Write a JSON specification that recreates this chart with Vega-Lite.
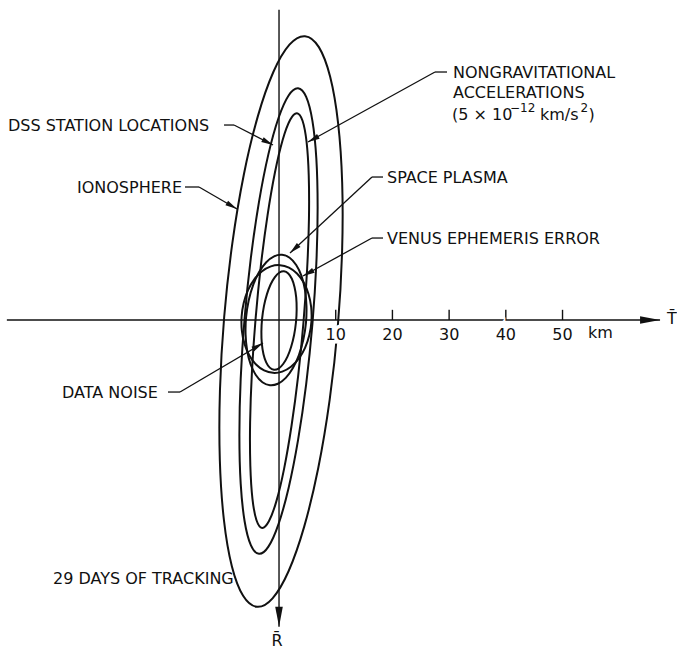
{
  "$schema": "https://vega.github.io/schema/vega-lite/v6.json",
  "width": 677,
  "height": 649,
  "padding": 0,
  "autosize": {"type": "fit", "contains": "padding"},
  "background": "white",
  "config": {"view": {"stroke": null}},
  "datasets": {
    "ellipses": [
      {"e": "Ionosphere", "i": 0, "x": 4.58, "r": -50.06},
      {"e": "Ionosphere", "i": 1, "x": 7.03, "r": -48.13},
      {"e": "Ionosphere", "i": 2, "x": 9.02, "r": -42.9},
      {"e": "Ionosphere", "i": 3, "x": 10.42, "r": -34.73},
      {"e": "Ionosphere", "i": 4, "x": 11.14, "r": -24.17},
      {"e": "Ionosphere", "i": 5, "x": 11.12, "r": -11.95},
      {"e": "Ionosphere", "i": 6, "x": 10.37, "r": 1.1},
      {"e": "Ionosphere", "i": 7, "x": 8.93, "r": 14.09},
      {"e": "Ionosphere", "i": 8, "x": 6.91, "r": 26.15},
      {"e": "Ionosphere", "i": 9, "x": 4.44, "r": 36.44},
      {"e": "Ionosphere", "i": 10, "x": 1.7, "r": 44.26},
      {"e": "Ionosphere", "i": 11, "x": -1.14, "r": 49.08},
      {"e": "Ionosphere", "i": 12, "x": -3.88, "r": 50.58},
      {"e": "Ionosphere", "i": 13, "x": -6.33, "r": 48.64},
      {"e": "Ionosphere", "i": 14, "x": -8.32, "r": 43.42},
      {"e": "Ionosphere", "i": 15, "x": -9.72, "r": 35.25},
      {"e": "Ionosphere", "i": 16, "x": -10.44, "r": 24.69},
      {"e": "Ionosphere", "i": 17, "x": -10.42, "r": 12.47},
      {"e": "Ionosphere", "i": 18, "x": -9.67, "r": -0.58},
      {"e": "Ionosphere", "i": 19, "x": -8.23, "r": -13.57},
      {"e": "Ionosphere", "i": 20, "x": -6.21, "r": -25.63},
      {"e": "Ionosphere", "i": 21, "x": -3.74, "r": -35.92},
      {"e": "Ionosphere", "i": 22, "x": -1.0, "r": -43.74},
      {"e": "Ionosphere", "i": 23, "x": 1.84, "r": -48.56},

      {"e": "DSS station locations", "i": 0, "x": 3.36, "r": -40.88},
      {"e": "DSS station locations", "i": 1, "x": 4.79, "r": -39.35},
      {"e": "DSS station locations", "i": 2, "x": 5.89, "r": -35.13},
      {"e": "DSS station locations", "i": 3, "x": 6.58, "r": -28.5},
      {"e": "DSS station locations", "i": 4, "x": 6.81, "r": -19.92},
      {"e": "DSS station locations", "i": 5, "x": 6.58, "r": -9.97},
      {"e": "DSS station locations", "i": 6, "x": 5.89, "r": 0.68},
      {"e": "DSS station locations", "i": 7, "x": 4.79, "r": 11.3},
      {"e": "DSS station locations", "i": 8, "x": 3.36, "r": 21.15},
      {"e": "DSS station locations", "i": 9, "x": 1.7, "r": 29.57},
      {"e": "DSS station locations", "i": 10, "x": -0.09, "r": 35.99},
      {"e": "DSS station locations", "i": 11, "x": -1.87, "r": 39.97},
      {"e": "DSS station locations", "i": 12, "x": -3.54, "r": 41.24},
      {"e": "DSS station locations", "i": 13, "x": -4.97, "r": 39.71},
      {"e": "DSS station locations", "i": 14, "x": -6.07, "r": 35.49},
      {"e": "DSS station locations", "i": 15, "x": -6.76, "r": 28.86},
      {"e": "DSS station locations", "i": 16, "x": -6.99, "r": 20.28},
      {"e": "DSS station locations", "i": 17, "x": -6.76, "r": 10.33},
      {"e": "DSS station locations", "i": 18, "x": -6.07, "r": -0.32},
      {"e": "DSS station locations", "i": 19, "x": -4.97, "r": -10.94},
      {"e": "DSS station locations", "i": 20, "x": -3.54, "r": -20.79},
      {"e": "DSS station locations", "i": 21, "x": -1.88, "r": -29.21},
      {"e": "DSS station locations", "i": 22, "x": -0.09, "r": -35.63},
      {"e": "DSS station locations", "i": 23, "x": 1.69, "r": -39.61},

      {"e": "Nongravitational accelerations", "i": 0, "x": 3.16, "r": -36.48},
      {"e": "Nongravitational accelerations", "i": 1, "x": 4.15, "r": -35.14},
      {"e": "Nongravitational accelerations", "i": 2, "x": 4.86, "r": -31.4},
      {"e": "Nongravitational accelerations", "i": 3, "x": 5.24, "r": -25.52},
      {"e": "Nongravitational accelerations", "i": 4, "x": 5.28, "r": -17.89},
      {"e": "Nongravitational accelerations", "i": 5, "x": 4.96, "r": -9.03},
      {"e": "Nongravitational accelerations", "i": 6, "x": 4.31, "r": 0.44},
      {"e": "Nongravitational accelerations", "i": 7, "x": 3.37, "r": 9.9},
      {"e": "Nongravitational accelerations", "i": 8, "x": 2.2, "r": 18.69},
      {"e": "Nongravitational accelerations", "i": 9, "x": 0.9, "r": 26.2},
      {"e": "Nongravitational accelerations", "i": 10, "x": -0.46, "r": 31.94},
      {"e": "Nongravitational accelerations", "i": 11, "x": -1.79, "r": 35.5},
      {"e": "Nongravitational accelerations", "i": 12, "x": -2.98, "r": 36.66},
      {"e": "Nongravitational accelerations", "i": 13, "x": -3.97, "r": 35.32},
      {"e": "Nongravitational accelerations", "i": 14, "x": -4.68, "r": 31.58},
      {"e": "Nongravitational accelerations", "i": 15, "x": -5.06, "r": 25.7},
      {"e": "Nongravitational accelerations", "i": 16, "x": -5.1, "r": 18.07},
      {"e": "Nongravitational accelerations", "i": 17, "x": -4.78, "r": 9.21},
      {"e": "Nongravitational accelerations", "i": 18, "x": -4.13, "r": -0.26},
      {"e": "Nongravitational accelerations", "i": 19, "x": -3.19, "r": -9.72},
      {"e": "Nongravitational accelerations", "i": 20, "x": -2.02, "r": -18.51},
      {"e": "Nongravitational accelerations", "i": 21, "x": -0.72, "r": -26.02},
      {"e": "Nongravitational accelerations", "i": 22, "x": 0.64, "r": -31.76},
      {"e": "Nongravitational accelerations", "i": 23, "x": 1.97, "r": -35.32},

      {"e": "Space plasma", "i": 0, "x": 0.54, "r": -11.5},
      {"e": "Space plasma", "i": 1, "x": 1.87, "r": -10.98},
      {"e": "Space plasma", "i": 2, "x": 3.03, "r": -9.71},
      {"e": "Space plasma", "i": 3, "x": 3.96, "r": -7.79},
      {"e": "Space plasma", "i": 4, "x": 4.57, "r": -5.33},
      {"e": "Space plasma", "i": 5, "x": 4.84, "r": -2.5},
      {"e": "Space plasma", "i": 6, "x": 4.75, "r": 0.49},
      {"e": "Space plasma", "i": 7, "x": 4.29, "r": 3.45},
      {"e": "Space plasma", "i": 8, "x": 3.51, "r": 6.17},
      {"e": "Space plasma", "i": 9, "x": 2.45, "r": 8.48},
      {"e": "Space plasma", "i": 10, "x": 1.19, "r": 10.2},
      {"e": "Space plasma", "i": 11, "x": -0.2, "r": 11.24},
      {"e": "Space plasma", "i": 12, "x": -1.6, "r": 11.5},
      {"e": "Space plasma", "i": 13, "x": -2.93, "r": 10.98},
      {"e": "Space plasma", "i": 14, "x": -4.09, "r": 9.71},
      {"e": "Space plasma", "i": 15, "x": -5.02, "r": 7.79},
      {"e": "Space plasma", "i": 16, "x": -5.63, "r": 5.33},
      {"e": "Space plasma", "i": 17, "x": -5.9, "r": 2.5},
      {"e": "Space plasma", "i": 18, "x": -5.81, "r": -0.49},
      {"e": "Space plasma", "i": 19, "x": -5.35, "r": -3.45},
      {"e": "Space plasma", "i": 20, "x": -4.57, "r": -6.17},
      {"e": "Space plasma", "i": 21, "x": -3.51, "r": -8.48},
      {"e": "Space plasma", "i": 22, "x": -2.25, "r": -10.2},
      {"e": "Space plasma", "i": 23, "x": -0.87, "r": -11.24},

      {"e": "Venus ephemeris error", "i": 0, "x": 0.17, "r": -9.68},
      {"e": "Venus ephemeris error", "i": 1, "x": 1.75, "r": -9.25},
      {"e": "Venus ephemeris error", "i": 2, "x": 3.17, "r": -8.21},
      {"e": "Venus ephemeris error", "i": 3, "x": 4.35, "r": -6.62},
      {"e": "Venus ephemeris error", "i": 4, "x": 5.2, "r": -4.59},
      {"e": "Venus ephemeris error", "i": 5, "x": 5.67, "r": -2.26},
      {"e": "Venus ephemeris error", "i": 6, "x": 5.72, "r": 0.22},
      {"e": "Venus ephemeris error", "i": 7, "x": 5.35, "r": 2.66},
      {"e": "Venus ephemeris error", "i": 8, "x": 4.59, "r": 4.92},
      {"e": "Venus ephemeris error", "i": 9, "x": 3.48, "r": 6.82},
      {"e": "Venus ephemeris error", "i": 10, "x": 2.11, "r": 8.25},
      {"e": "Venus ephemeris error", "i": 11, "x": 0.56, "r": 9.1},
      {"e": "Venus ephemeris error", "i": 12, "x": -1.05, "r": 9.32},
      {"e": "Venus ephemeris error", "i": 13, "x": -2.63, "r": 8.89},
      {"e": "Venus ephemeris error", "i": 14, "x": -4.05, "r": 7.85},
      {"e": "Venus ephemeris error", "i": 15, "x": -5.23, "r": 6.26},
      {"e": "Venus ephemeris error", "i": 16, "x": -6.08, "r": 4.23},
      {"e": "Venus ephemeris error", "i": 17, "x": -6.55, "r": 1.9},
      {"e": "Venus ephemeris error", "i": 18, "x": -6.6, "r": -0.58},
      {"e": "Venus ephemeris error", "i": 19, "x": -6.23, "r": -3.02},
      {"e": "Venus ephemeris error", "i": 20, "x": -5.47, "r": -5.28},
      {"e": "Venus ephemeris error", "i": 21, "x": -4.36, "r": -7.18},
      {"e": "Venus ephemeris error", "i": 22, "x": -2.99, "r": -8.61},
      {"e": "Venus ephemeris error", "i": 23, "x": -1.44, "r": -9.46},

      {"e": "Data noise", "i": 0, "x": 0.88, "r": -8.6},
      {"e": "Data noise", "i": 1, "x": 1.63, "r": -8.22},
      {"e": "Data noise", "i": 2, "x": 2.26, "r": -7.28},
      {"e": "Data noise", "i": 3, "x": 2.73, "r": -5.84},
      {"e": "Data noise", "i": 4, "x": 3.03, "r": -3.99},
      {"e": "Data noise", "i": 5, "x": 3.11, "r": -1.87},
      {"e": "Data noise", "i": 6, "x": 2.99, "r": 0.39},
      {"e": "Data noise", "i": 7, "x": 2.66, "r": 2.63},
      {"e": "Data noise", "i": 8, "x": 2.14, "r": 4.7},
      {"e": "Data noise", "i": 9, "x": 1.49, "r": 6.45},
      {"e": "Data noise", "i": 10, "x": 0.73, "r": 7.76},
      {"e": "Data noise", "i": 11, "x": -0.08, "r": 8.56},
      {"e": "Data noise", "i": 12, "x": -0.88, "r": 8.78},
      {"e": "Data noise", "i": 13, "x": -1.63, "r": 8.4},
      {"e": "Data noise", "i": 14, "x": -2.26, "r": 7.46},
      {"e": "Data noise", "i": 15, "x": -2.74, "r": 6.02},
      {"e": "Data noise", "i": 16, "x": -3.03, "r": 4.17},
      {"e": "Data noise", "i": 17, "x": -3.11, "r": 2.05},
      {"e": "Data noise", "i": 18, "x": -2.99, "r": -0.21},
      {"e": "Data noise", "i": 19, "x": -2.66, "r": -2.45},
      {"e": "Data noise", "i": 20, "x": -2.14, "r": -4.52},
      {"e": "Data noise", "i": 21, "x": -1.49, "r": -6.27},
      {"e": "Data noise", "i": 22, "x": -0.73, "r": -7.58},
      {"e": "Data noise", "i": 23, "x": 0.08, "r": -8.38}
    ],
    "axes": [
      {"name": "T", "x0": -48.0, "r0": 0, "x1": 67.2, "r1": 0},
      {"name": "R", "x0": 0, "r0": -54.7, "x1": 0, "r1": 54.1}
    ],
    "ticks": [{"km": 10}, {"km": 20}, {"km": 30}, {"km": 40}, {"km": 50}],
    "callouts": [
      {"label": "DSS STATION LOCATIONS", "xa": -9.7, "ra": -34.39, "xb": -7.94, "rb": -34.39, "xt": -1.06, "rt": -30.86},
      {"label": "IONOSPHERE", "xa": -16.58, "ra": -23.46, "xb": -14.11, "rb": -23.46, "xt": -7.41, "rt": -19.58},
      {"label": "NONGRAVITATIONAL", "xa": 29.63, "ra": -43.74, "xb": 27.51, "rb": -43.74, "xt": 5.11, "rt": -31.39},
      {"label": "SPACE PLASMA", "xa": 18.34, "ra": -25.22, "xb": 16.4, "rb": -25.22, "xt": 1.94, "rt": -11.82},
      {"label": "VENUS EPHEMERIS ERROR", "xa": 18.34, "ra": -14.46, "xb": 16.4, "rb": -14.46, "xt": 4.23, "rt": -7.76},
      {"label": "DATA NOISE", "xa": -19.58, "ra": 12.7, "xb": -17.46, "rb": 12.7, "xt": -2.82, "rt": 4.06}
    ],
    "labels": [
      {"text": "NONGRAVITATIONAL", "x": 30.69, "r": -43.56},
      {"text": "ACCELERATIONS", "x": 30.69, "r": -40.04},
      {"text": "(5 × 10", "x": 30.51, "r": -36.2},
      {"text": "km/s", "x": 46.03, "r": -36.2},
      {"text": ")", "x": 54.6, "r": -36.2},
      {"text": "SPACE PLASMA", "x": 19.05, "r": -25.04},
      {"text": "VENUS EPHEMERIS ERROR", "x": 19.05, "r": -14.29},
      {"text": "DSS STATION LOCATIONS", "x": -47.8, "r": -34.22},
      {"text": "IONOSPHERE", "x": -35.63, "r": -23.37},
      {"text": "DATA NOISE", "x": -38.27, "r": 12.79},
      {"text": "29 DAYS OF TRACKING", "x": -39.86, "r": 45.59},
      {"text": "km", "x": 54.5, "r": 2.29}
    ],
    "superscripts": [
      {"text": "−12", "x": 40.74, "r": -37.4},
      {"text": "2", "x": 53.15, "r": -37.4}
    ],
    "axisNames": [
      {"text": "T̄", "x": 69.31, "r": -0.2},
      {"text": "R̄", "x": -0.35, "r": 56.6}
    ]
  },
  "layer": [
    {
      "data": {"name": "ellipses"},
      "mark": {"type": "line", "interpolate": "cardinal-closed", "stroke": "#111", "strokeWidth": 2},
      "encoding": {
        "x": {"field": "x", "type": "quantitative", "axis": null, "scale": {"domain": [-49.21, 70.19], "nice": false, "zero": false}},
        "y": {"field": "r", "type": "quantitative", "axis": null, "scale": {"domain": [-56.44, 58.02], "nice": false, "zero": false, "reverse": true}},
        "detail": {"field": "e", "type": "nominal"},
        "order": {"field": "i", "type": "quantitative"}
      }
    },
    {
      "data": {"name": "axes"},
      "mark": {"type": "rule", "stroke": "#111", "strokeWidth": 1.4},
      "encoding": {
        "x": {"field": "x0", "type": "quantitative"},
        "y": {"field": "r0", "type": "quantitative"},
        "x2": {"field": "x1"},
        "y2": {"field": "r1"}
      }
    },
    {
      "data": {"name": "axes"},
      "transform": [{"calculate": "atan2(datum.x1 - datum.x0, datum.r0 - datum.r1) * 180 / PI", "as": "ang"}],
      "mark": {"type": "point", "shape": "M0,0L0.38,2L-0.38,2Z", "size": 400, "filled": true, "fill": "#111", "strokeWidth": 0, "opacity": 1},
      "encoding": {
        "x": {"field": "x1", "type": "quantitative"},
        "y": {"field": "r1", "type": "quantitative"},
        "angle": {"field": "ang", "type": "quantitative", "scale": null}
      }
    },
    {
      "data": {"name": "ticks"},
      "mark": {"type": "rule", "stroke": "#111", "strokeWidth": 1.4},
      "encoding": {
        "x": {"field": "km", "type": "quantitative"},
        "y": {"datum": 0},
        "y2": {"datum": -1.8}
      }
    },
    {
      "data": {"name": "ticks"},
      "mark": {"type": "text", "font": "DejaVu Sans", "fontSize": 16, "fill": "white", "stroke": "white", "strokeWidth": 7, "align": "center", "baseline": "middle"},
      "encoding": {
        "x": {"field": "km", "type": "quantitative"},
        "y": {"datum": 2.6},
        "text": {"field": "km", "type": "quantitative"}
      }
    },
    {
      "data": {"name": "ticks"},
      "mark": {"type": "text", "font": "DejaVu Sans", "fontSize": 16, "fill": "#111", "align": "center", "baseline": "middle"},
      "encoding": {
        "x": {"field": "km", "type": "quantitative"},
        "y": {"datum": 2.6},
        "text": {"field": "km", "type": "quantitative"}
      }
    },
    {
      "data": {"name": "callouts"},
      "mark": {"type": "rule", "stroke": "#111", "strokeWidth": 1.3},
      "encoding": {
        "x": {"field": "xa", "type": "quantitative"},
        "y": {"field": "ra", "type": "quantitative"},
        "x2": {"field": "xb"},
        "y2": {"field": "rb"}
      }
    },
    {
      "data": {"name": "callouts"},
      "mark": {"type": "rule", "stroke": "#111", "strokeWidth": 1.3},
      "encoding": {
        "x": {"field": "xb", "type": "quantitative"},
        "y": {"field": "rb", "type": "quantitative"},
        "x2": {"field": "xt"},
        "y2": {"field": "rt"}
      }
    },
    {
      "data": {"name": "callouts"},
      "transform": [{"calculate": "atan2(datum.xt - datum.xb, datum.rb - datum.rt) * 180 / PI", "as": "ang"}],
      "mark": {"type": "point", "shape": "M0,0L0.45,2L-0.45,2Z", "size": 140, "filled": true, "fill": "#111", "strokeWidth": 0, "opacity": 1},
      "encoding": {
        "x": {"field": "xt", "type": "quantitative"},
        "y": {"field": "rt", "type": "quantitative"},
        "angle": {"field": "ang", "type": "quantitative", "scale": null}
      }
    },
    {
      "data": {"name": "labels"},
      "mark": {"type": "text", "font": "DejaVu Sans", "fontSize": 16, "fill": "#111", "align": "left", "baseline": "middle"},
      "encoding": {
        "x": {"field": "x", "type": "quantitative"},
        "y": {"field": "r", "type": "quantitative"},
        "text": {"field": "text", "type": "nominal"}
      }
    },
    {
      "data": {"name": "superscripts"},
      "mark": {"type": "text", "font": "DejaVu Sans", "fontSize": 12, "fill": "#111", "align": "left", "baseline": "middle"},
      "encoding": {
        "x": {"field": "x", "type": "quantitative"},
        "y": {"field": "r", "type": "quantitative"},
        "text": {"field": "text", "type": "nominal"}
      }
    },
    {
      "data": {"name": "axisNames"},
      "mark": {"type": "text", "font": "DejaVu Sans", "fontSize": 16, "fill": "#111", "align": "center", "baseline": "middle"},
      "encoding": {
        "x": {"field": "x", "type": "quantitative"},
        "y": {"field": "r", "type": "quantitative"},
        "text": {"field": "text", "type": "nominal"}
      }
    }
  ]
}
